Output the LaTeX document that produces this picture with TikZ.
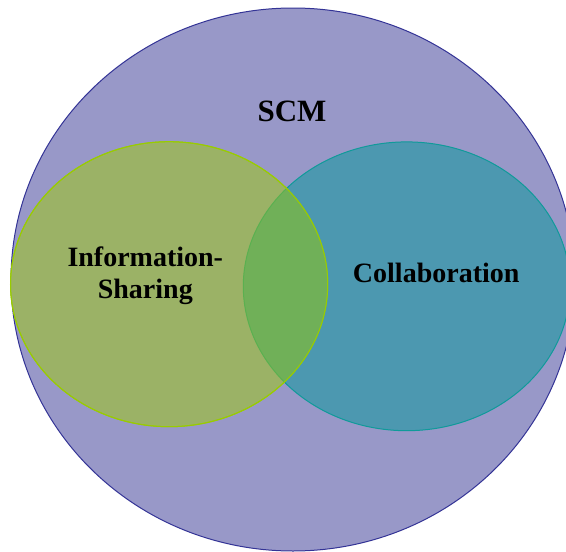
\documentclass[tikz,border=0pt]{standalone}
\usepackage{fontspec}
\setmainfont{Liberation Serif}
\usepackage{tikz}

\definecolor{scmfill}{RGB}{152,152,200}
\definecolor{scmline}{RGB}{52,52,150}
\definecolor{infofill}{RGB}{155,178,102}
\definecolor{infoline}{RGB}{153,204,0}
\definecolor{collabfill}{RGB}{76,152,176}
\definecolor{collabline}{RGB}{16,154,154}
\definecolor{lensfill}{RGB}{112,176,88}
\definecolor{lensline}{RGB}{90,176,80}

\begin{document}
\begin{tikzpicture}[x=1pt,y=-1pt,
  lbl/.style={font=\bfseries\fontsize{28}{32}\selectfont, inner sep=0pt, anchor=base, align=center}]
\useasboundingbox (0,0) rectangle (566,552);
\clip (0,0) rectangle (566,552);
% the three sets
\filldraw [fill=scmfill, draw=scmline, line width=1pt] (293,279.5) ellipse [x radius=282, y radius=271.5];
\filldraw [fill=collabfill, draw=collabline, line width=1pt] (406.7,286.3) ellipse [x radius=163.4, y radius=144.4];
\filldraw [fill=infofill, draw=infoline, line width=1pt] (169.1,284.2) ellipse [x radius=158.6, y radius=142.5];
% overlap
\begin{scope}
\clip (169.1,284.2) ellipse [x radius=158.6, y radius=142.5];
\filldraw [fill=lensfill, draw=lensline, line width=1pt] (406.7,286.3) ellipse [x radius=163.4, y radius=144.4];
\end{scope}
\draw [infoline, line width=1pt] (169.1,284.2) ellipse [x radius=158.6, y radius=142.5];
% labels
\node [lbl, font=\bfseries\fontsize{31}{36}\selectfont] (scm) at (292,121.7) {SCM};
\node [lbl] (info) at (145.3,298.3) {Information-\\Sharing};
\node [lbl] (collab) at (436.2,282.7) {Collaboration};
\end{tikzpicture}
\end{document}
